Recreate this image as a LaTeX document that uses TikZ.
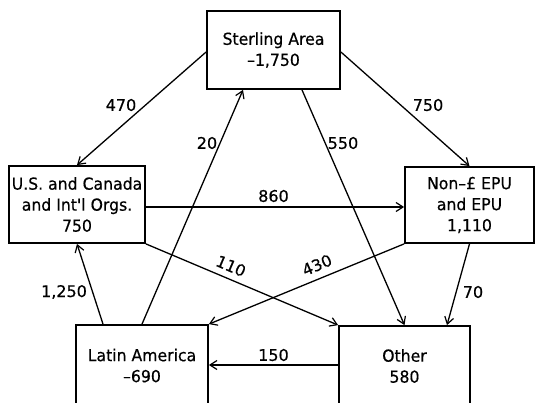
\documentclass[tikz,border=0pt]{standalone}
\usepackage{fontspec}
\setmainfont{DejaVu Sans}
\newfontfamily\boxfont{DejaVu Sans}[FakeBold=0.5,FakeStretch=0.95]
\newfontfamily\labfont{DejaVu Sans}[FakeBold=0.5]
\usetikzlibrary{arrows.meta}
\begin{document}
\begin{tikzpicture}[x=1pt,y=-1pt,
  box/.style={draw,line width=1.8pt,align=center,inner sep=0pt,font=\boxfont\fontsize{16.5}{21}\selectfont},
  flow/.style={line width=1.3pt,-{Straight Barb[length=7pt,width=9pt,line width=1.2pt]}},
  lab/.style={font=\labfont\fontsize{16}{18}\selectfont,inner sep=1pt}]
\useasboundingbox (0,0) rectangle (536,403);
\clip (0,0) rectangle (536,403);
\node[box,minimum width=133pt,minimum height=78pt] (S) at (273.5,50) {Sterling Area\\–1,750};
\node[box,minimum width=136pt,minimum height=77pt] (U) at (77,204.5) {U.S. and Canada\\and Int'l Orgs.\\750};
\node[box,minimum width=129pt,minimum height=76pt] (N) at (469.5,205) {Non–£ EPU\\and EPU\\1,110};
\node[box,minimum width=132pt,minimum height=81pt] (L) at (142,365.5) {Latin America\\–690};
\node[box,minimum width=131pt,minimum height=80pt] (O) at (404.5,366) {Other\\580};
\draw[flow] ([yshift=-2pt]S.west) -- (U.north);
\draw[flow] ([yshift=-2pt]S.east) -- (N.north);
\draw[flow] (L.north) -- ([xshift=-30.5pt]S.south);
\draw[flow] ([xshift=28.5pt]S.south) -- (O.north);
\draw[flow] ([yshift=-2.5pt]U.east) -- ([yshift=-2pt]N.west);
\draw[flow] (U.south east) -- (O.north west);
\draw[flow] (N.south west) -- (L.north east);
\draw[flow] ([xshift=-39pt]L.north) -- (U.south);
\draw[flow] (N.south) -- ([xshift=42.5pt]O.north);
\draw[flow] ([yshift=1pt]O.west) -- ([yshift=0.5pt]L.east);
\node[lab] (l470) at (121,105) {470};
\node[lab] (l750) at (428,105) {750};
\node[lab] (l20) at (207,143) {20};
\node[lab] (l550) at (343,143) {550};
\node[lab] (l860) at (273.5,196) {860};
\node[lab,rotate=-23] (l110) at (231,266) {110};
\node[lab,rotate=23] (l430) at (317,265) {430};
\node[lab] (l1250) at (64,292) {1,250};
\node[lab] (l70) at (473,292) {70};
\node[lab] (l150) at (273.5,355) {150};
\end{tikzpicture}
\end{document}
